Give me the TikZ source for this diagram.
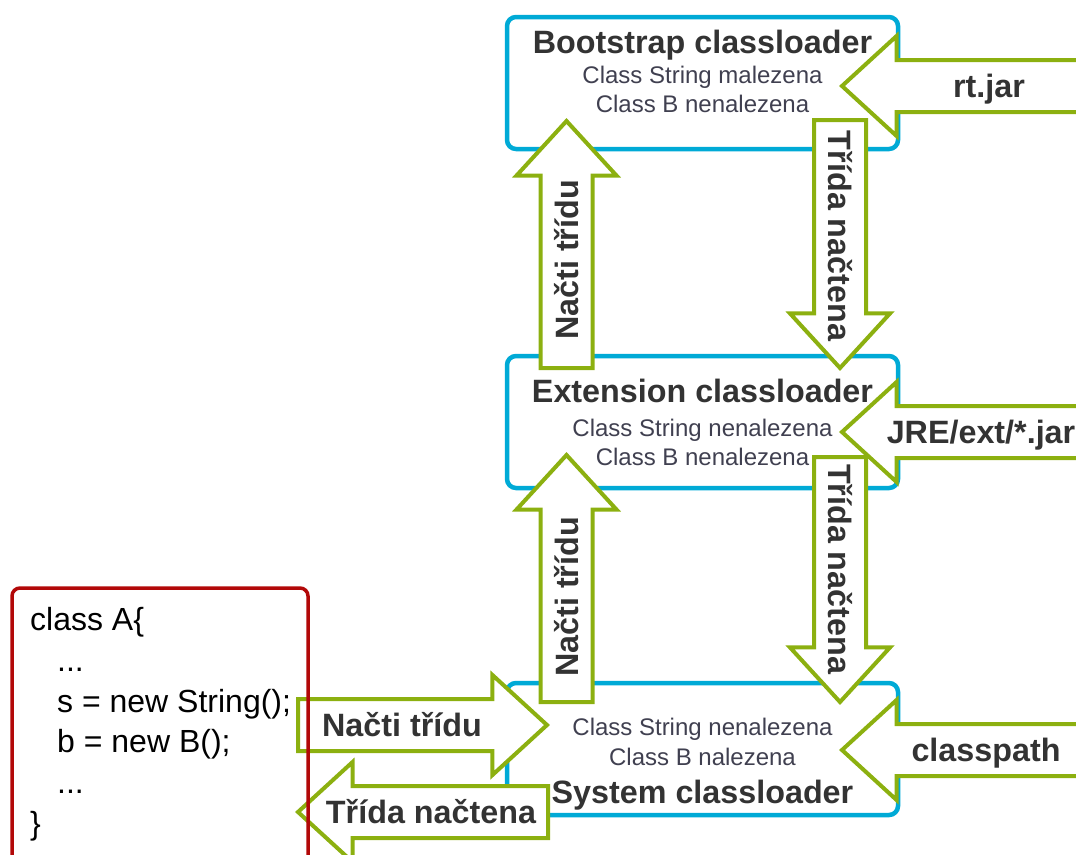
\documentclass[tikz,border=0pt]{standalone}
\usepackage{fontspec}
\setmainfont{Liberation Sans}
\usetikzlibrary{shapes.arrows}

\definecolor{loaderblue}{RGB}{0,170,214}
\definecolor{flowgreen}{RGB}{140,176,16}
\definecolor{codered}{RGB}{178,8,8}
\definecolor{titlegray}{RGB}{51,51,51}
\definecolor{notegray}{RGB}{64,64,80}

\tikzset{
  loaderbox/.style={draw=loaderblue, line width=4.5pt, rounded corners=9pt,
    minimum width=391pt, minimum height=132pt, outer sep=0pt},
  codebox/.style={draw=codered, line width=3.5pt, rounded corners=8pt, outer sep=0pt},
  flowarrow/.style={single arrow, draw=flowgreen, fill=white, line width=4pt,
    single arrow head extend=24pt, single arrow tip angle=85,
    minimum width=96pt, inner xsep=0pt, inner ysep=24pt, outer sep=0pt},
  backarrow/.style={flowarrow, shape border rotate=180},
  flowlabel/.style={font=\bfseries\fontsize{32.3}{36}\selectfont, text=titlegray,
    text height=23pt, text depth=0pt, inner sep=0pt},
  loadertitle/.style={font=\bfseries\fontsize{32.3}{36}\selectfont, text=titlegray,
    anchor=base, inner sep=0pt},
  loadernote/.style={font=\fontsize{24}{28}\selectfont, text=notegray,
    anchor=base, inner sep=0pt},
  codeline/.style={font=\fontsize{32}{36}\selectfont, anchor=base west, inner sep=0pt}
}

\begin{document}
\begin{tikzpicture}[x=1pt,y=-1pt]
\useasboundingbox (0,0) rectangle (1076,854);

% the three classloaders
\node[loaderbox] (boot) at (702.5,83) {};
\node[loaderbox] (ext) at (702.5,422) {};
\node[loaderbox] (sys) at (702.5,749) {};

% delegation upwards, loaded class back down
\node[flowarrow, rotate=90, minimum height=247pt, anchor=tail] (askboot) at (566.5,368) {};
\node[flowarrow, rotate=-90, minimum height=248pt, anchor=tail] (fromboot) at (840,120) {};
\node[flowarrow, rotate=90, minimum height=247pt, anchor=tail] (askext) at (566.5,702) {};
\node[flowarrow, rotate=-90, minimum height=245pt, anchor=tail] (fromext) at (840,457) {};

% where each loader looks
\node[backarrow, minimum height=240pt, anchor=tip] (rtjar) at (842,86) {};
\node[backarrow, minimum height=240pt, anchor=tip] (extjar) at (842,432) {};
\node[backarrow, minimum height=240pt, anchor=tip] (cpath) at (842,750) {};

% request from the code and the answer
\node[flowarrow, minimum height=249pt, anchor=tail] (askapp) at (298,725) {};
\node[backarrow, minimum height=250pt, anchor=tip] (toapp) at (298,812) {};

\node[flowlabel, rotate=90] (askbootlbl) at (566.5,260) {Načti třídu};
\node[flowlabel, rotate=-90] (frombootlbl) at (840,236) {Třída načtena};
\node[flowlabel, rotate=90] (askextlbl) at (566.5,597) {Načti třídu};
\node[flowlabel, rotate=-90] (fromextlbl) at (840,569) {Třída načtena};
\node[flowlabel] (rtjarlbl) at (989,86) {rt.jar};
\node[flowlabel] (extjarlbl) at (981,432) {JRE/ext/*.jar};
\node[flowlabel] (cpathlbl) at (986,750) {classpath};
\node[flowlabel] (askapplbl) at (402,725) {Načti třídu};
\node[flowlabel] (toapplbl) at (431,812) {Třída načtena};

% texts of the loaders
\node[loadertitle] (boottitle) at (702.5,53) {Bootstrap classloader};
\node[loadernote] (bootstr) at (702.5,83) {Class String malezena};
\node[loadernote] (bootb) at (702.5,112) {Class B nenalezena};

\node[loadertitle] (exttitle) at (702.5,402) {Extension classloader};
\node[loadernote] (extstr) at (702.5,436) {Class String nenalezena};
\node[loadernote] (extb) at (702.5,465) {Class B nenalezena};

\node[loadernote] (sysstr) at (702.5,735) {Class String nenalezena};
\node[loadernote] (sysb) at (702.5,765) {Class B nalezena};
\node[loadertitle] (systitle) at (702.5,803) {System classloader};

% the class asking for String and B
\node[codebox, minimum width=296pt, minimum height=290pt, anchor=north west] (classA) at (12,588) {};
\node[codeline] (line1) at (30,630) {class A\{};
\node[codeline] (line2) at (57,671) {...};
\node[codeline] (line3) at (57,712) {s = new String();};
\node[codeline] (line4) at (57,752) {b = new B();};
\node[codeline] (line5) at (57,793) {...};
\node[codeline] (line6) at (30,834) {\}};
\end{tikzpicture}
\end{document}
